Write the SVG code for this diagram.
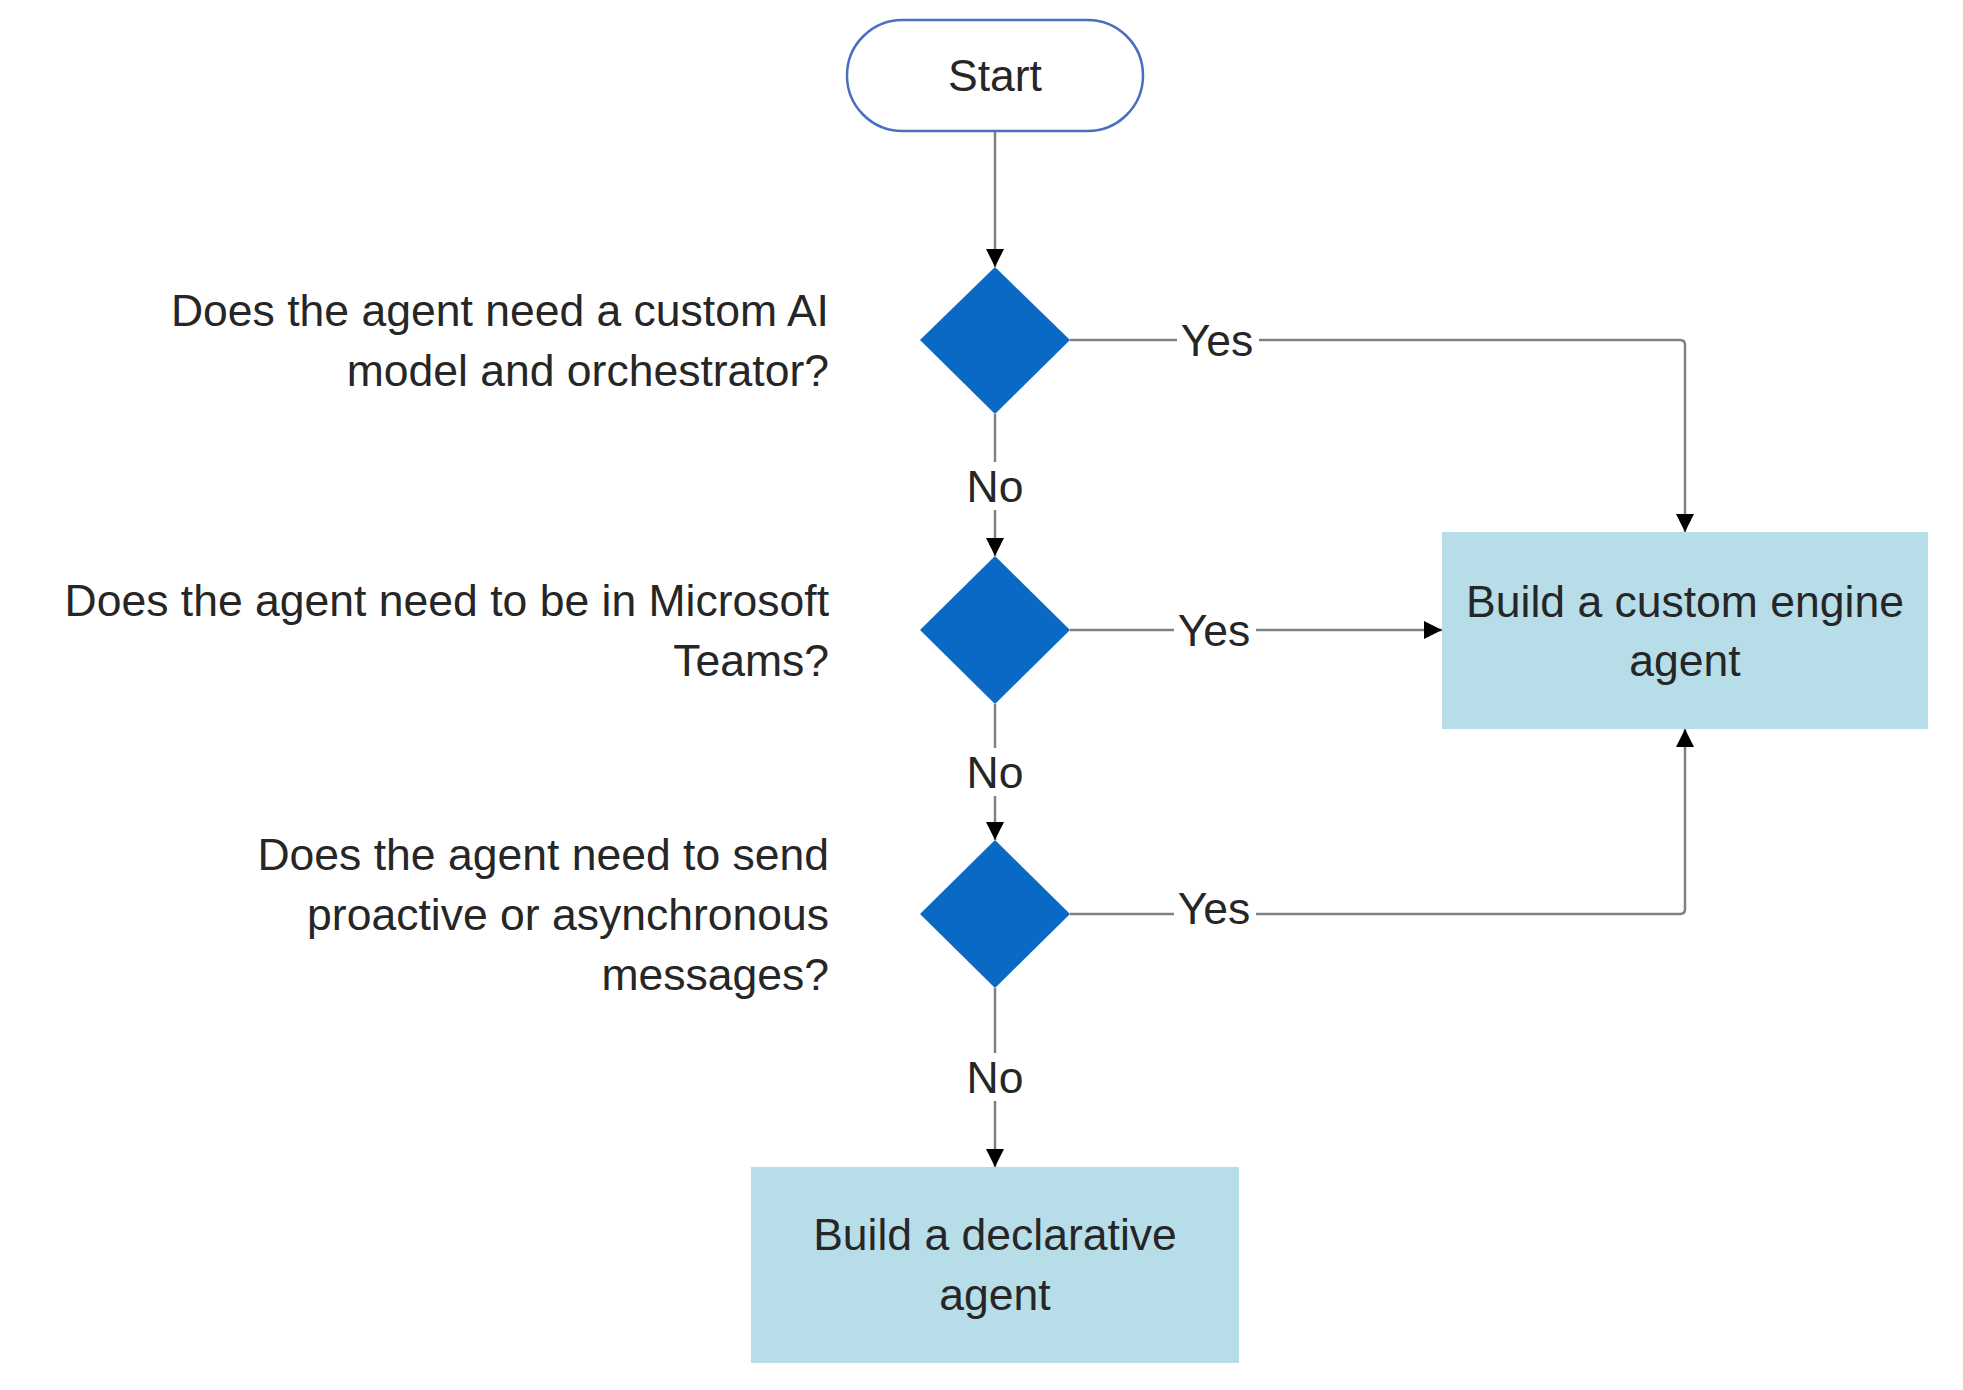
<svg xmlns="http://www.w3.org/2000/svg" width="1963" height="1390" viewBox="0 0 1963 1390">
  <style>
    text { font-family: "Liberation Sans", Arial, sans-serif; font-size: 44.5px; fill: #262626; }
    .c { text-anchor: middle; }
    .r { text-anchor: end; }
    .conn { fill: none; stroke: #808080; stroke-width: 2.5; }
    .diamond { fill: #0a69c4; }
    .box { fill: #b7dde8; }
    .bg { fill: #ffffff; }
  </style>
  <defs>
    <marker id="arrow" viewBox="0 0 10 10" refX="10" refY="5" markerWidth="18" markerHeight="18" markerUnits="userSpaceOnUse" orient="auto">
      <path d="M0,0 L10,5 L0,10 z" fill="#000000"/>
    </marker>
  </defs>
  <rect width="1963" height="1390" fill="#ffffff"/>

  <g id="connectors">
    <path class="conn" d="M995,131 L995,267" marker-end="url(#arrow)"/>
    <path class="conn" d="M995,414 L995,556" marker-end="url(#arrow)"/>
    <path class="conn" d="M995,704 L995,840" marker-end="url(#arrow)"/>
    <path class="conn" d="M995,988 L995,1167" marker-end="url(#arrow)"/>
    <path class="conn" d="M1070,340 L1680,340 Q1685,340 1685,345 L1685,532" marker-end="url(#arrow)"/>
    <path class="conn" d="M1070,630 L1442,630" marker-end="url(#arrow)"/>
    <path class="conn" d="M1070,914 L1680,914 Q1685,914 1685,909 L1685,729" marker-end="url(#arrow)"/>
    <g id="labels">
      <rect class="bg" x="1177" y="328" width="82" height="24"/>
      <text class="c" x="1217" y="356">Yes</text>
      <rect class="bg" x="1174" y="618" width="82" height="24"/>
      <text class="c" x="1214" y="646">Yes</text>
      <rect class="bg" x="1174" y="902" width="82" height="24"/>
      <text class="c" x="1214" y="924">Yes</text>
      <rect class="bg" x="970" y="462" width="50" height="48"/>
      <text class="c" x="995" y="502">No</text>
      <rect class="bg" x="970" y="748" width="50" height="48"/>
      <text class="c" x="995" y="788">No</text>
      <rect class="bg" x="970" y="1053" width="50" height="48"/>
      <text class="c" x="995" y="1093">No</text>
    </g>
  </g>

  <g id="start">
    <rect x="847" y="20" width="296" height="111" rx="55.5" ry="55.5" fill="#ffffff" stroke="#4a6fbe" stroke-width="2.5"/>
    <text class="c" x="995" y="91">Start</text>
  </g>

  <g id="q1">
    <polygon class="diamond" points="995,267 1070,340 995,414 920,340"/>
    <text class="r" x="829" y="326">Does the agent need a custom AI</text>
    <text class="r" x="829" y="386">model and orchestrator?</text>
  </g>

  <g id="q2">
    <polygon class="diamond" points="995,556 1070,630 995,704 920,630"/>
    <text class="r" x="829" y="616">Does the agent need to be in Microsoft</text>
    <text class="r" x="829" y="676">Teams?</text>
  </g>

  <g id="q3">
    <polygon class="diamond" points="995,840 1070,914 995,988 920,914"/>
    <text class="r" x="829" y="870">Does the agent need to send</text>
    <text class="r" x="829" y="930">proactive or asynchronous</text>
    <text class="r" x="829" y="990">messages?</text>
  </g>

  <g id="custom-engine">
    <rect class="box" x="1442" y="532" width="486" height="197"/>
    <text class="c" x="1685" y="617">Build a custom engine</text>
    <text class="c" x="1685" y="676">agent</text>
  </g>

  <g id="declarative">
    <rect class="box" x="751" y="1167" width="488" height="196"/>
    <text class="c" x="995" y="1250">Build a declarative</text>
    <text class="c" x="995" y="1310">agent</text>
  </g>
</svg>
